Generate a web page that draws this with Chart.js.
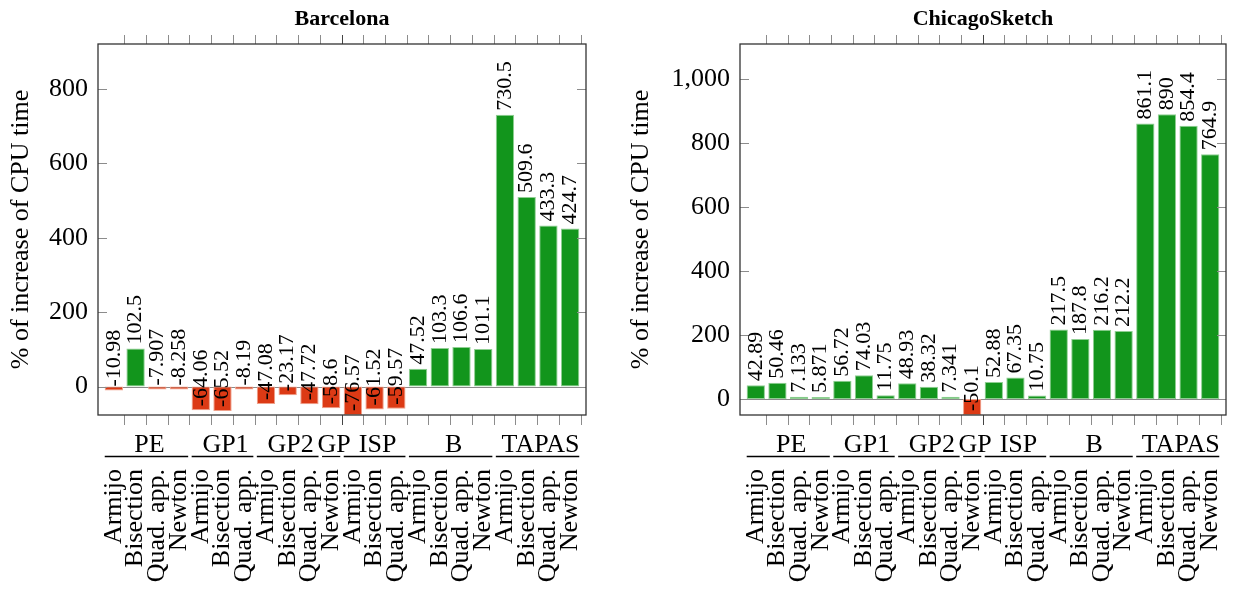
<!DOCTYPE html>
<html>
<head>
<meta charset="utf-8">
<script src="https://cdn.jsdelivr.net/npm/chart.js@4.4.1/dist/chart.umd.min.js"></script>
<style>
  html, body { margin: 0; background: #fff; }
  #wrap { position: relative; width: 1234px; height: 597px; }
  canvas { position: absolute; top: 0; }
</style>
</head>
<body>
<div id="wrap">
  <canvas id="barcelona" width="617" height="597" style="left:0"></canvas>
  <canvas id="chicago" width="617" height="597" style="left:617px"></canvas>
</div>
<script>
// categories
const methods = [
  'Armijo', 'Bisection', 'Quad. app.', 'Newton',
  'Armijo', 'Bisection', 'Quad. app.',
  'Armijo', 'Bisection', 'Quad. app.',
  'Newton',
  'Armijo', 'Bisection', 'Quad. app.',
  'Armijo', 'Bisection', 'Quad. app.', 'Newton',
  'Armijo', 'Bisection', 'Quad. app.', 'Newton'
];
const groups = ['PE', 'GP1', 'GP2', 'GP', 'ISP', 'B', 'TAPAS'];
const groupSizes = [4, 3, 3, 1, 3, 4, 4];

// % of increase of CPU time
const barcelonaValues = [
  -10.98, 102.5, -7.907, -8.258,
  -64.06, -65.52, -8.19,
  -47.08, -23.17, -47.72,
  -58.6,
  -76.57, -61.52, -59.57,
  47.52, 103.3, 106.6, 101.1,
  730.5, 509.6, 433.3, 424.7
];
const chicagoValues = [
  42.89, 50.46, 7.133, 5.871,
  56.72, 74.03, 11.75,
  48.93, 38.32, 7.341,
  -50.1,
  52.88, 67.35, 10.75,
  217.5, 187.8, 216.2, 212.2,
  861.1, 890, 854.4, 764.9
];

const barcelonaTicks = [0, 200, 400, 600, 800];
const chicagoTicks = [0, 200, 400, 600, 800, 1000];

const FONT = '"Liberation Serif", "Times New Roman", serif';
const GREEN = '#12951c';
const RED = '#dc3a15';
const GREEN_EDGE = '#8fcf92';
const RED_EDGE = '#efa08a';
const TICK = '#8c8c8c';

// tick marks sit between the bars
const xTickPos = methods.map((_, i) => i + 0.5);

function fmt(v) {
  return String(Number(v.toPrecision(4)));
}

const decor = {
  id: 'decor',
  beforeDatasetsDraw(chart) {
    const { ctx, chartArea } = chart;
    const y0 = chart.scales.y.getPixelForValue(0);
    ctx.save();
    ctx.strokeStyle = '#8a8a8a';
    ctx.lineWidth = 1;
    ctx.beginPath();
    ctx.moveTo(chartArea.left, Math.round(y0) + 0.5);
    ctx.lineTo(chartArea.right, Math.round(y0) + 0.5);
    ctx.stroke();
    ctx.restore();
  },
  afterDraw(chart, args, opts) {
    const { ctx, chartArea } = chart;
    const xs = chart.scales.x;
    const ys = chart.scales.y;
    const values = opts.values;
    ctx.save();

    // y ticks, inside on both sides
    ctx.strokeStyle = TICK;
    ctx.lineWidth = 1;
    ys.ticks.forEach(t => {
      const py = Math.round(ys.getPixelForValue(t.value)) + 0.5;
      ctx.beginPath();
      ctx.moveTo(chartArea.left, py);
      ctx.lineTo(chartArea.left + 9, py);
      ctx.moveTo(chartArea.right, py);
      ctx.lineTo(chartArea.right - 9, py);
      ctx.stroke();
    });

    // frame
    ctx.strokeStyle = '#333';
    ctx.lineWidth = 1.3;
    ctx.strokeRect(chartArea.left, chartArea.top, chartArea.right - chartArea.left, chartArea.bottom - chartArea.top);

    // title
    ctx.fillStyle = '#000';
    ctx.font = 'bold 22px ' + FONT;
    ctx.textAlign = 'center';
    ctx.textBaseline = 'alphabetic';
    ctx.fillText(opts.title, (chartArea.left + chartArea.right) / 2, 25);

    // value labels, rotated, starting at the bar end
    const meta = chart.getDatasetMeta(0);
    ctx.font = '22px ' + FONT;
    ctx.textAlign = 'left';
    ctx.textBaseline = 'middle';
    meta.data.forEach((bar, i) => {
      const py = ys.getPixelForValue(values[i]);
      ctx.save();
      ctx.translate(bar.x, py - 4);
      ctx.rotate(-Math.PI / 2);
      ctx.fillText(fmt(values[i]), 0, 0);
      ctx.restore();
    });

    // method labels below the axis
    ctx.font = '26px ' + FONT;
    ctx.textAlign = 'right';
    methods.forEach((m, i) => {
      ctx.save();
      ctx.translate(xs.getPixelForValue(i), chartArea.bottom + 54);
      ctx.rotate(-Math.PI / 2);
      ctx.fillText(m, 0, 0);
      ctx.restore();
    });

    // group labels with underline
    ctx.textAlign = 'center';
    ctx.textBaseline = 'alphabetic';
    ctx.strokeStyle = '#000';
    ctx.lineWidth = 1.3;
    let start = 0;
    groups.forEach((g, k) => {
      const end = start + groupSizes[k] - 1;
      const x1 = xs.getPixelForValue(start - 0.42);
      const x2 = xs.getPixelForValue(end + 0.42);
      const ly = chartArea.bottom + 41.5;
      ctx.beginPath();
      ctx.moveTo(x1, ly);
      ctx.lineTo(x2, ly);
      ctx.stroke();
      ctx.fillText(g, (x1 + x2) / 2 + 3, chartArea.bottom + 37);
      start = end + 1;
    });

    ctx.restore();
  }
};

function xAxis(position, height, tickLen) {
  return {
    type: 'linear',
    position: position,
    min: -0.73,
    max: 21.73,
    offset: false,
    afterBuildTicks: s => { s.ticks = xTickPos.map(v => ({ value: v })); },
    afterFit: s => { s.height = height; },
    ticks: { display: false },
    border: { display: false },
    grid: {
      offset: false,
      drawOnChartArea: false,
      drawTicks: true,
      tickLength: tickLen,
      lineWidth: 1,
      color: c => (c.tick && c.tick.value === 10.5) ? '#444' : TICK
    }
  };
}

function makeChart(id, title, values, yTicks, yMin, yMax, leftW, rightPad, titlePad) {
  return new Chart(document.getElementById(id), {
    type: 'bar',
    data: {
      datasets: [{
        data: values.map((v, i) => ({ x: i, y: v })),
        backgroundColor: values.map(v => v >= 0 ? GREEN : RED),
        borderColor: values.map(v => v >= 0 ? GREEN_EDGE : RED_EDGE),
        borderWidth: 1,
        borderSkipped: false,
        barPercentage: 0.845,
        categoryPercentage: 1
      }]
    },
    options: {
      responsive: false,
      animation: false,
      locale: 'en-US',
      layout: { padding: { left: 0, right: rightPad, top: 0, bottom: 0 } },
      plugins: {
        legend: { display: false },
        tooltip: { enabled: false },
        title: { display: false },
        decor: { title: title, values: values }
      },
      scales: {
        x: xAxis('bottom', 182, 10),
        xTop: xAxis('top', 44, 9),
        y: {
          min: yMin,
          max: yMax,
          afterBuildTicks: s => { s.ticks = yTicks.map(v => ({ value: v })); },
          afterFit: s => { s.width = leftW; },
          border: { display: false },
          grid: { display: false, drawTicks: false },
          ticks: {
            color: '#000',
            padding: 10,
            font: { family: FONT, size: 26 }
          },
          title: {
            display: true,
            text: '% of increase of CPU time',
            color: '#000',
            padding: { top: titlePad, bottom: 0 },
            font: { family: FONT, size: 26 }
          }
        }
      }
    },
    plugins: [decor]
  });
}

makeChart('barcelona', 'Barcelona', barcelonaValues, barcelonaTicks, -76.57, 921, 98, 31, 6);
makeChart('chicago', 'ChicagoSketch', chicagoValues, chicagoTicks, -50.1, 1110, 123, 8, 9);
</script>
</body>
</html>
